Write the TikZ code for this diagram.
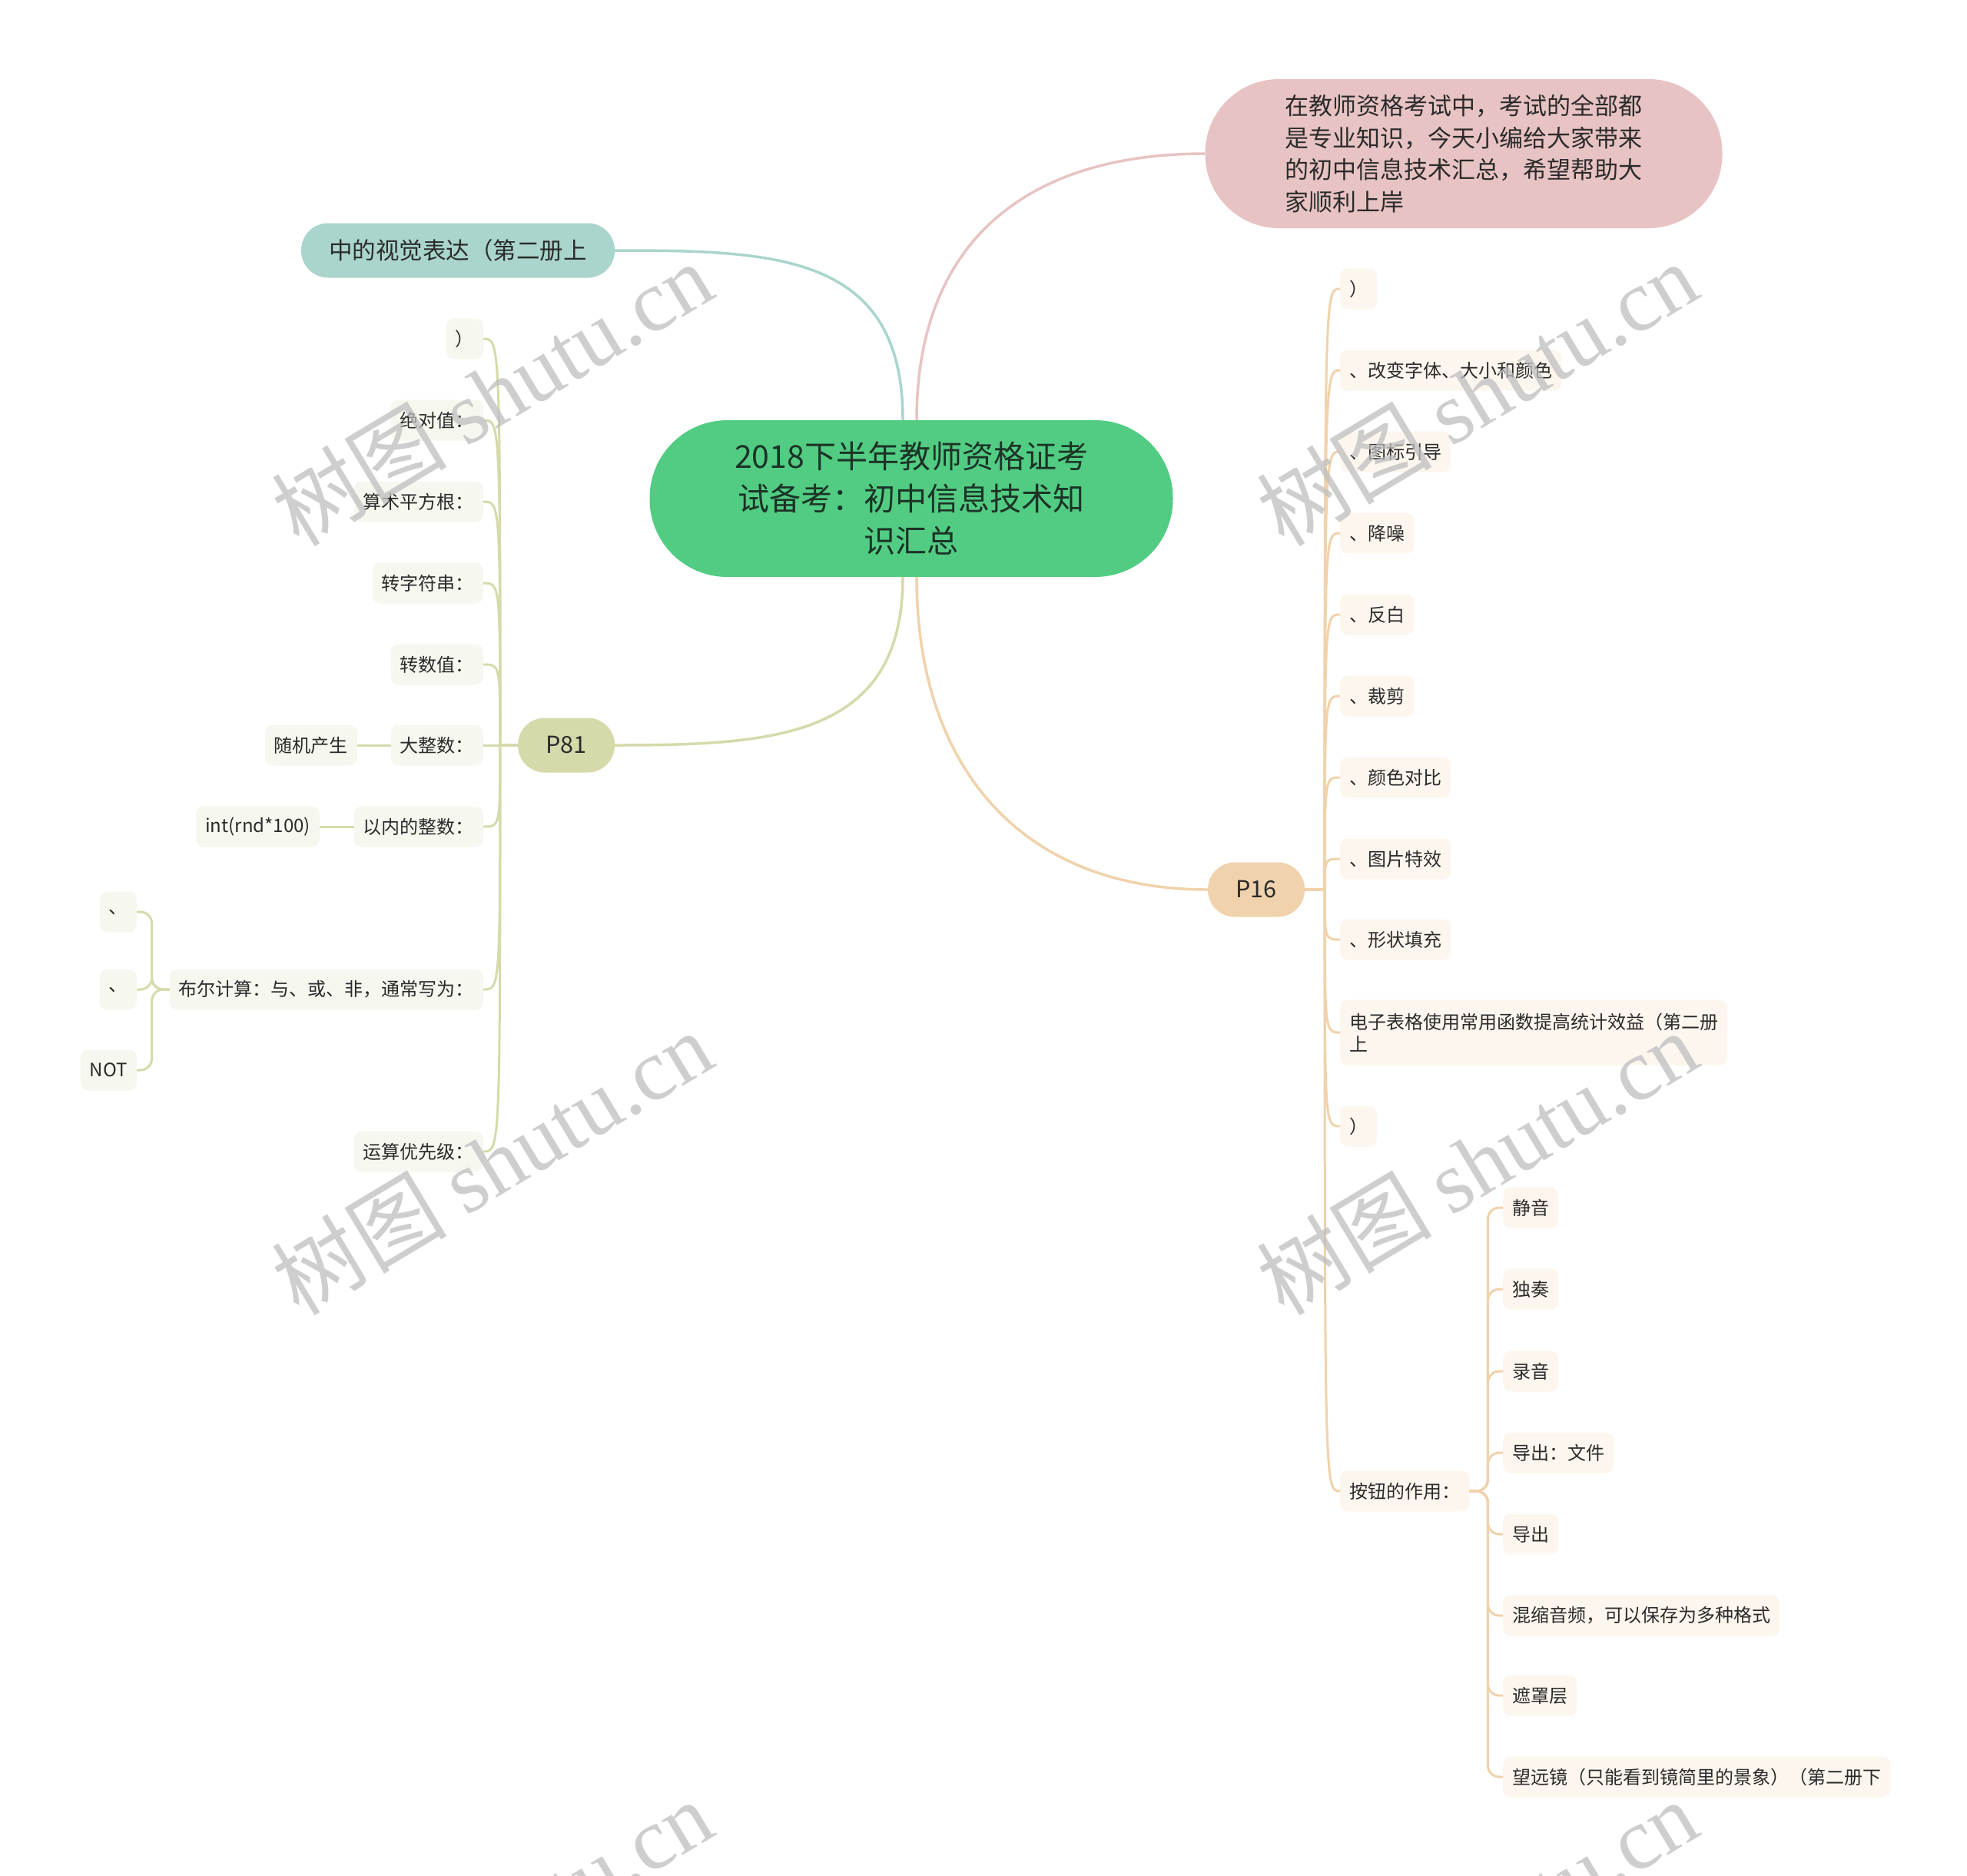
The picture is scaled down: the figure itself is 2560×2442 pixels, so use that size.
\documentclass[tikz,border=0pt]{standalone}
\usepackage{fontspec}
\setmainfont{Noto Sans CJK SC}
\newfontfamily\wmserif{Liberation Serif}
\definecolor{mainG}{HTML}{52CC83}
\definecolor{mainT}{HTML}{1C3326}
\definecolor{cTeal}{HTML}{A9D5CC}
\definecolor{cPink}{HTML}{E8C3C3}
\definecolor{cOlive}{HTML}{D6DAAB}
\definecolor{cPeach}{HTML}{F0D2AC}
\definecolor{bgOlive}{HTML}{F6F7EE}
\definecolor{bgPeach}{HTML}{FDF6EE}
\definecolor{txt}{HTML}{2B2B2B}
\definecolor{wmc}{HTML}{BEBEBE}
\tikzset{
  mainnode/.style={fill=mainG, text=mainT, minimum width=681, minimum height=204,
    rounded corners=101, inner sep=0, align=center, font=\fontsize{41}{55}\selectfont},
  descnode/.style={fill=cPink, text=txt, minimum width=673, minimum height=194,
    rounded corners=96, inner sep=0, align=left, font=\fontsize{31}{41.5}\selectfont},
  topic/.style={text=txt, minimum height=71, rounded corners=35, inner sep=0,
    font=\fontsize{30.5}{36}\selectfont},
  lleaf/.style={fill=bgOlive, text=txt, minimum height=53, rounded corners=10,
    inner xsep=12, inner ysep=0, font=\fontsize{24}{29}\selectfont},
  rleaf/.style={fill=bgPeach, text=txt, minimum height=53, rounded corners=10,
    inner xsep=12, inner ysep=0, font=\fontsize{24}{29}\selectfont},
  oline/.style={draw=cOlive, line width=3},
  pline/.style={draw=cPeach, line width=3},
  wm/.style={rotate=31, text=wmc, text opacity=0.75, inner sep=0,
    font=\fontsize{114}{114}\selectfont}
}
\begin{document}
\begin{tikzpicture}[x=1pt,y=-1pt]
\useasboundingbox (0,0) rectangle (2560,2442);
\fill[white] (0,0) rectangle (2560,2442);

% main topics
\node[mainnode] (main) at (1186,649) {2018下半年教师资格证考\\试备考：初中信息技术知\\识汇总};
\node[descnode] (desc) at (1905,200) {在教师资格考试中，考试的全部都\\是专业知识，今天小编给大家带来\\的初中信息技术汇总，希望帮助大\\家顺利上岸};
\node[topic, fill=cTeal, minimum width=408] (tealn) at (596,326) {中的视觉表达（第二册上};
\node[topic, fill=cOlive, minimum width=126] (p81) at (737,970) {P81};
\node[topic, fill=cPeach, minimum width=126] (p16) at (1635,1158) {P16};

\draw[cTeal, line width=3.5] ([xshift=-11]main.north) .. controls (1175,330) and (1010,326) .. (tealn.east);
\draw[cPink, line width=3.5] ([xshift=7]main.north) .. controls (1193,320) and (1330,200) .. (desc.west);
\draw[cOlive, line width=3.5] ([xshift=-11]main.south) .. controls (1175,960) and (1010,970) .. (p81.east);
\draw[cPeach, line width=3.5] ([xshift=7]main.south) .. controls (1193,1000) and (1330,1158) .. (p16.west);

% left branch (P81)
\node[lleaf, anchor=east] (l1) at (629,441) {）};
\node[lleaf, anchor=east] (l2) at (629,547) {绝对值：};
\node[lleaf, anchor=east] (l3) at (629,653) {算术平方根：};
\node[lleaf, anchor=east] (l4) at (629,759) {转字符串：};
\node[lleaf, anchor=east] (l5) at (629,865) {转数值：};
\node[lleaf, anchor=east] (l6) at (629,970) {大整数：};
\node[lleaf, anchor=east] (l7) at (629,1076) {以内的整数：};
\node[lleaf, anchor=east] (l8) at (629,1288) {布尔计算：与、或、非，通常写为：};
\node[lleaf, anchor=east] (l9) at (629,1499) {运算优先级：};
\foreach \n/\y in {l1/441,l2/547,l3/653,l4/759,l5/865,l6/970,l7/1076,l8/1288,l9/1499}
  \draw[oline] (p81.west) -- ++(-23,0) .. controls (651,\y) .. (\n.east);

\node[lleaf, anchor=east] (rand) at (465,970) {随机产生};
\node[lleaf, anchor=east] (intn) at (416,1076) {int(rnd*100)};
\draw[oline] (l6.west) -- (rand.east);
\draw[oline] (l7.west) -- (intn.east);

\node[lleaf, anchor=east] (b1) at (178,1187) {、};
\node[lleaf, anchor=east] (b2) at (178,1288) {、};
\node[lleaf, anchor=east] (b3) at (178,1393) {NOT};
\foreach \n in {b1,b2,b3}
  \draw[oline, rounded corners=15] (l8.west) -- ++(-23,0) |- (\n.east);

% right branch (P16)
\node[rleaf, anchor=west] (r1) at (1744,376) {）};
\node[rleaf, anchor=west] (r2) at (1744,482) {、改变字体、大小和颜色};
\node[rleaf, anchor=west] (r3) at (1744,588) {、图标引导};
\node[rleaf, anchor=west] (r4) at (1744,694) {、降噪};
\node[rleaf, anchor=west] (r5) at (1744,800) {、反白};
\node[rleaf, anchor=west] (r6) at (1744,906) {、裁剪};
\node[rleaf, anchor=west] (r7) at (1744,1012) {、颜色对比};
\node[rleaf, anchor=west] (r8) at (1744,1118) {、图片特效};
\node[rleaf, anchor=west] (r9) at (1744,1223) {、形状填充};
\node[rleaf, anchor=west, minimum height=85, align=left] (r10) at (1744,1344) {电子表格使用常用函数提高统计效益（第二册\\上};
\node[rleaf, anchor=west] (r11) at (1744,1466) {）};
\node[rleaf, anchor=west] (r12) at (1744,1941) {按钮的作用：};
\foreach \n/\y in {r1/376,r2/482,r3/588,r4/694,r5/800,r6/906,r7/1012,r8/1118,r9/1223,r10/1344,r11/1466,r12/1941}
  \draw[pline] (p16.east) -- ++(26,0) .. controls (1724,\y) .. (\n.west);

\node[rleaf, anchor=west] (s1) at (1956,1572) {静音};
\node[rleaf, anchor=west] (s2) at (1956,1678) {独奏};
\node[rleaf, anchor=west] (s3) at (1956,1785) {录音};
\node[rleaf, anchor=west] (s4) at (1956,1891) {导出：文件};
\node[rleaf, anchor=west] (s5) at (1956,1997) {导出};
\node[rleaf, anchor=west] (s6) at (1956,2103) {混缩音频，可以保存为多种格式};
\node[rleaf, anchor=west] (s7) at (1956,2207) {遮罩层};
\node[rleaf, anchor=west] (s8) at (1956,2313) {望远镜（只能看到镜简里的景象）（第二册下};
\foreach \n in {s1,s2,s3,s4,s5,s6,s7,s8}
  \draw[pline, rounded corners=15] (r12.east) -- ++(24,0) |- (\n.west);

% watermarks
\foreach \x/\y [count=\i] in {640/512,1922/512,640/1513,1922/1513,640/2514,1922/2514}
  \node[wm] (wm\i) at (\x,\y) {树图 {\wmserif shutu.cn}};
\end{tikzpicture}
\end{document}
